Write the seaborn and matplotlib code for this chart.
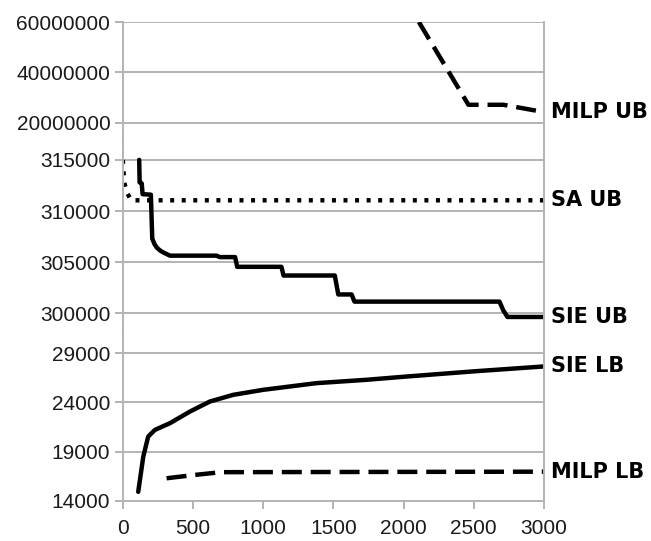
import numpy as np
import pandas as pd
import seaborn as sns
import matplotlib.pyplot as plt

# values (time on x)
milp_ub_x = [2109, 2462, 2712, 3000]
milp_ub_y = [60000000, 27100000, 27100000, 24200000]

sa_ub_x = [0, 10, 30, 60, 3000]
sa_ub_y = [315000, 312800, 311800, 311050, 311050]

sie_ub_x = [117, 120, 135, 141, 200, 210, 225, 241, 265, 288, 336, 668, 690, 800, 815,
            1130, 1145, 1510, 1535, 1630, 1650, 2683, 2710, 2740, 3000]
sie_ub_y = [315000, 312800, 312700, 311650, 311600, 307300, 306800, 306450, 306150, 305960,
            305640, 305640, 305500, 305500, 304550, 304550, 303700, 303700, 301850, 301850,
            301150, 301150, 300300, 299650, 299650]

sie_lb_x = [110, 146, 181, 229, 336, 478, 620, 786, 999, 1379, 1735, 2000, 2500, 3000]
sie_lb_y = [14900, 18480, 20520, 21200, 21880, 23060, 24080, 24760, 25270, 25950, 26290,
            26600, 27150, 27650]

milp_lb_x = [312, 500, 700, 3000]
milp_lb_y = [16280, 16600, 16900, 16950]

x_ticks = [0, 500, 1000, 1500, 2000, 2500, 3000]
top_ticks = [20000000, 40000000, 60000000]
mid_ticks = [300000, 305000, 310000, 315000]
bot_ticks = [14000, 19000, 24000, 29000]

sns.set_theme(style="white")
plt.rcParams['font.family'] = ['Liberation Sans', 'DejaVu Sans']

grid_col = '#b3b3b3'
fig = plt.figure(figsize=(6.51, 5.41), dpi=100)
gs = fig.add_gridspec(3, 1, height_ratios=[119, 191, 169], hspace=0,
                      left=0.1886, right=0.8356, top=0.9593, bottom=0.0745)
ax_top = fig.add_subplot(gs[0])
ax_mid = fig.add_subplot(gs[1], sharex=ax_top)
ax_bot = fig.add_subplot(gs[2], sharex=ax_top)

lw = 3.2
sns.lineplot(x=milp_ub_x, y=milp_ub_y, ax=ax_top, color='black', linewidth=lw,
             estimator=None, sort=False, linestyle=(0, (4.5, 2)))
sns.lineplot(x=sa_ub_x, y=sa_ub_y, ax=ax_mid, color='black', linewidth=lw,
             estimator=None, sort=False, linestyle=(0, (0.9, 1.7)))
sns.lineplot(x=sie_ub_x, y=sie_ub_y, ax=ax_mid, color='black', linewidth=lw,
             estimator=None, sort=False)
sns.lineplot(x=sie_lb_x, y=sie_lb_y, ax=ax_bot, color='black', linewidth=lw,
             estimator=None, sort=False)
sns.lineplot(x=milp_lb_x, y=milp_lb_y, ax=ax_bot, color='black', linewidth=lw,
             estimator=None, sort=False, linestyle=(0, (4.5, 2)))

ax_top.set_ylim(12730000, 60000000)
ax_mid.set_ylim(298200, 316850)
ax_bot.set_ylim(14000, 31170)
ax_top.set_yticks(top_ticks)
ax_mid.set_yticks(mid_ticks)
ax_bot.set_yticks(bot_ticks)
ax_bot.set_xlim(0, 3000)
ax_bot.set_xticks(x_ticks)

for ax in (ax_top, ax_mid, ax_bot):
    ax.grid(axis='y', color=grid_col, linewidth=1.4)
    ax.set_axisbelow(True)
    ax.spines['top'].set_visible(False)
    ax.spines['bottom'].set_visible(False)
    for s in ('left', 'right'):
        ax.spines[s].set_color(grid_col)
        ax.spines[s].set_linewidth(1.4)
    ax.tick_params(axis='y', left=True, length=6, width=1.4, color=grid_col,
                   labelsize=15, labelcolor='#1a1a1a', pad=3)
    ax.tick_params(axis='x', bottom=False, labelbottom=False)
    ax.yaxis.set_major_formatter(plt.FuncFormatter(lambda v, p: f"{int(v)}"))
    ax.set_xlabel('')
    ax.set_ylabel('')

ax_bot.spines['bottom'].set_visible(True)
ax_bot.spines['bottom'].set_color(grid_col)
ax_bot.spines['bottom'].set_linewidth(1.4)
ax_bot.tick_params(axis='x', bottom=True, labelbottom=True, length=6, width=1.4,
                   color=grid_col, labelsize=15, labelcolor='#1a1a1a', pad=7)

labels = [(ax_top, 'MILP UB', milp_ub_y[-1]), (ax_mid, 'SA UB', sa_ub_y[-1]),
          (ax_mid, 'SIE UB', sie_ub_y[-1]), (ax_bot, 'SIE LB', sie_lb_y[-1]),
          (ax_bot, 'MILP LB', milp_lb_y[-1])]
for ax, txt, yv in labels:
    ax.annotate(txt, xy=(3000, yv), xytext=(5, 0), textcoords='offset points',
                va='center', ha='left', fontsize=15, fontweight='bold',
                family='DejaVu Sans', color='black', annotation_clip=False)

fig.savefig('out.png', dpi=100)
